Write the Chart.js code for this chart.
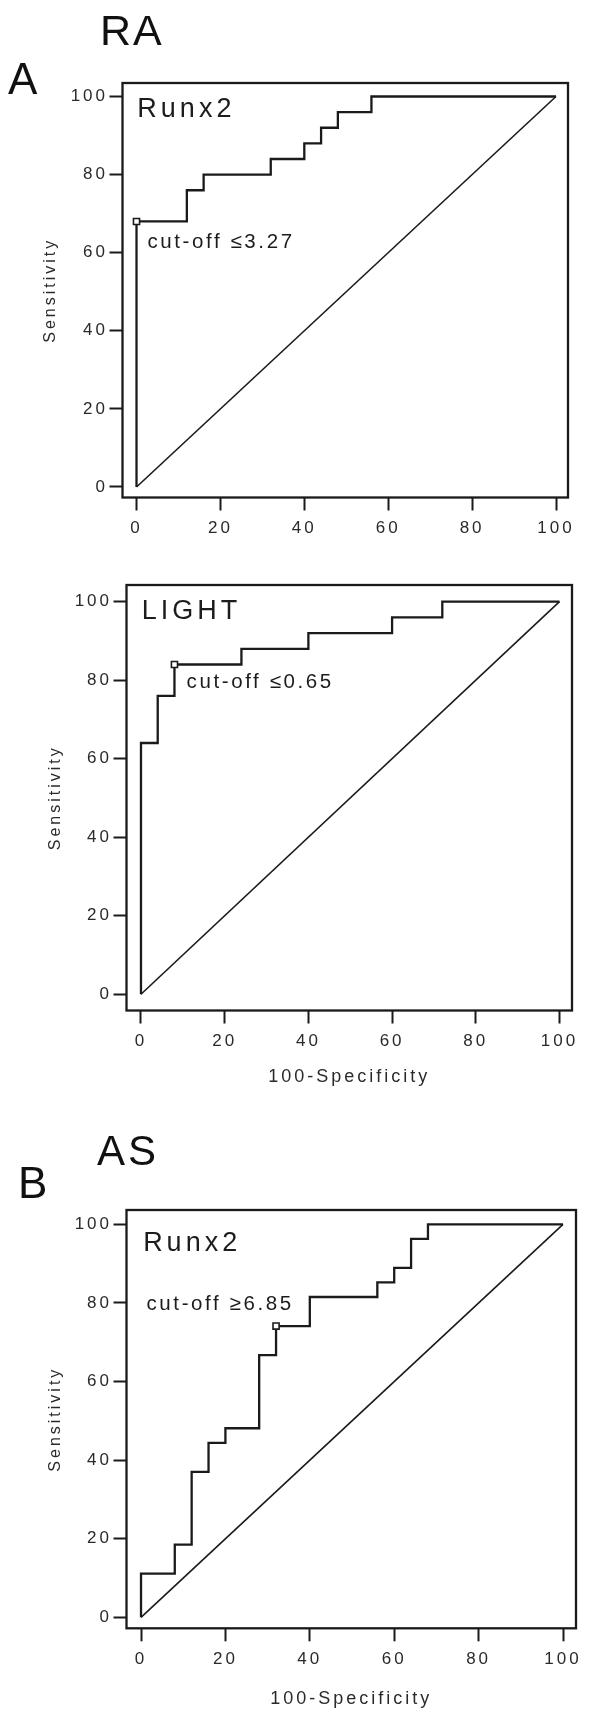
<!DOCTYPE html>
<html>
<head>
<meta charset="utf-8">
<script src="https://cdn.jsdelivr.net/npm/chart.js@4.4.1/dist/chart.umd.min.js"></script>
<style>
  html, body { margin: 0; padding: 0; background: #fff; }
  body { width: 589px; height: 1713px; position: relative; overflow: hidden; }
  canvas { position: absolute; left: 0; }
</style>
</head>
<body>
<canvas id="raRunx2Chart" width="589" height="570" style="top:0px"></canvas>
<canvas id="raLightChart" width="589" height="530" style="top:560px"></canvas>
<canvas id="asRunx2Chart" width="589" height="623" style="top:1090px"></canvas>
<script>
const tickValues = [0, 20, 40, 60, 80, 100];
const chanceLine = [0, 100];

// RA - Runx2 ROC (100-specificity vs sensitivity)
const raRunx2Fpr  = [0, 0, 12, 16, 32, 40, 44, 48, 56, 100];
const raRunx2Sens = [0, 68, 76, 80, 84, 88, 92, 96, 100, 100];

// RA - LIGHT ROC
const raLightFpr  = [0, 0, 4, 8, 24, 40, 60, 72, 100];
const raLightSens = [0, 64, 76, 84, 88, 92, 96, 100, 100];

// AS - Runx2 ROC
const asRunx2Fpr  = [0, 0, 8, 12, 16, 20, 28, 32, 40, 56, 60, 64, 68, 100];
const asRunx2Sens = [0, 11.1, 18.5, 37.0, 44.4, 48.1, 66.7, 74.1, 81.5, 85.2, 88.9, 96.3, 100, 100];

// chosen cut-off points
const cutoffFpr    = [0, 8, 32];
const cutoffSens   = [68, 84, 74.1];
const cutoffLabels = ['cut-off ≤3.27', 'cut-off ≤0.65', 'cut-off ≥6.85'];
const markerNames  = ['Runx2', 'LIGHT', 'Runx2'];

const INK = '#1a1a1a';
const TEXT = '#2a2a2a';
const FONT = "'Liberation Sans', Arial, sans-serif";

function toPoints(xs, ys) {
    return xs.map((v, i) => ({ x: v, y: ys[i] }));
}

function rocChart(id, fpr, sens, idx, lay) {
    const ctx = document.getElementById(id).getContext('2d');

    const decor = {
        id: 'rocDecor',
        beforeDraw(chart) {
            chart.ctx.letterSpacing = '3px';
        },
        afterDraw(chart) {
            const { ctx, chartArea: a, scales: { x, y } } = chart;
            ctx.save();
            // box round the plot
            ctx.strokeStyle = INK;
            ctx.lineWidth = 2.3;
            ctx.strokeRect(a.left, a.top, a.right - a.left, a.bottom - a.top);

            ctx.fillStyle = '#1c1c1c';
            ctx.textAlign = 'left';
            ctx.textBaseline = 'alphabetic';
            ctx.letterSpacing = '4px';
            ctx.font = `27px ${FONT}`;
            ctx.fillText(markerNames[idx], x.getPixelForValue(lay.nameAt[0]), y.getPixelForValue(lay.nameAt[1]));

            ctx.letterSpacing = '2.6px';
            ctx.font = `20.5px ${FONT}`;
            ctx.textBaseline = 'middle';
            ctx.fillText(cutoffLabels[idx], x.getPixelForValue(lay.cutAt[0]), y.getPixelForValue(lay.cutAt[1]));

            // panel headings (RA / A, AS / B)
            ctx.textBaseline = 'alphabetic';
            (lay.headings || []).forEach(h => {
                ctx.letterSpacing = h.spacing + 'px';
                ctx.font = `${h.size}px ${FONT}`;
                ctx.fillStyle = '#111';
                ctx.fillText(h.text, h.x, h.y);
            });
            ctx.restore();
        }
    };

    const tickFont = { family: FONT, size: 17 };

    return new Chart(ctx, {
        type: 'line',
        data: {
            datasets: [
                {
                    label: 'cut-off',
                    data: [{ x: cutoffFpr[idx], y: cutoffSens[idx] }],
                    showLine: false,
                    pointStyle: 'rect',
                    pointRadius: 4.3,
                    pointBackgroundColor: '#fff',
                    pointBorderColor: INK,
                    pointBorderWidth: 1.6
                },
                {
                    label: markerNames[idx],
                    data: toPoints(fpr, sens),
                    borderColor: INK,
                    borderWidth: 2.3,
                    stepped: 'before',
                    pointRadius: 0,
                    fill: false
                },
                {
                    label: 'reference',
                    data: toPoints(chanceLine, chanceLine),
                    borderColor: INK,
                    borderWidth: 1.6,
                    pointRadius: 0,
                    fill: false
                }
            ]
        },
        options: {
            responsive: false,
            animation: false,
            layout: { padding: { left: 0, right: lay.padRight, top: lay.padTop, bottom: 0 } },
            plugins: { legend: { display: false }, tooltip: { enabled: false } },
            scales: {
                x: {
                    type: 'linear',
                    min: lay.xMin,
                    max: lay.xMax,
                    afterBuildTicks: s => { s.ticks = tickValues.map(v => ({ value: v })); },
                    afterFit: s => { s.height = lay.xHeight; },
                    grid: { drawOnChartArea: false, tickLength: 13, tickWidth: 2, tickColor: INK },
                    border: { display: false },
                    ticks: { color: TEXT, font: tickFont, padding: 8, maxRotation: 0, autoSkip: false, callback: v => String(v) },
                    title: {
                        display: !!lay.xTitle,
                        text: '100-Specificity',
                        color: TEXT,
                        font: { family: FONT, size: 18 },
                        padding: { top: 0, bottom: lay.xTitlePad || 0 }
                    }
                },
                y: {
                    type: 'linear',
                    min: lay.yMin,
                    max: lay.yMax,
                    afterBuildTicks: s => { s.ticks = tickValues.map(v => ({ value: v })); },
                    afterFit: s => { s.width = lay.yWidth; },
                    grid: { drawOnChartArea: false, tickLength: 13, tickWidth: 2, tickColor: INK },
                    border: { display: false },
                    ticks: { color: TEXT, font: tickFont, padding: 1.5, autoSkip: false, callback: v => String(v) },
                    title: {
                        display: true,
                        text: 'Sensitivity',
                        color: TEXT,
                        font: { family: FONT, size: 16 },
                        padding: { top: lay.yTitlePad, bottom: 0 }
                    }
                }
            }
        },
        plugins: [decor]
    });
}

rocChart('raRunx2Chart', raRunx2Fpr, raRunx2Sens, 0, {
    padTop: 83, padRight: 21, yWidth: 122.5, xHeight: 72.5,
    xMin: -3.34, xMax: 102.86, yMin: -2.69, yMax: 103.46,
    yTitlePad: 41.4, xTitle: false,
    nameAt: [0.2, 94.7], cutAt: [2.6, 62.6],
    headings: [
        { text: 'RA', x: 100, y: 45, size: 43, spacing: 2 },
        { text: 'A', x: 8, y: 94, size: 44, spacing: 0 }
    ]
});

rocChart('raLightChart', raLightFpr, raLightSens, 1, {
    padTop: 25, padRight: 17, yWidth: 126.5, xHeight: 79.5,
    xMin: -3.46, xMax: 102.99, yMin: -4.13, yMax: 104.25,
    yTitlePad: 45.9, xTitle: true, xTitlePad: 2.2,
    nameAt: [0.2, 95.6], cutAt: [10.9, 79.4]
});

rocChart('asRunx2Chart', asRunx2Fpr, asRunx2Sens, 2, {
    padTop: 120, padRight: 13, yWidth: 126.5, xHeight: 84.7,
    xMin: -3.44, xMax: 103.08, yMin: -2.8, yMax: 103.64,
    yTitlePad: 45.9, xTitle: true, xTitlePad: 3.2,
    nameAt: [0.5, 93.2], cutAt: [1.3, 79.7],
    headings: [
        { text: 'AS', x: 97, y: 75, size: 42, spacing: 3 },
        { text: 'B', x: 18, y: 108, size: 44, spacing: 0 }
    ]
});
</script>
</body>
</html>
